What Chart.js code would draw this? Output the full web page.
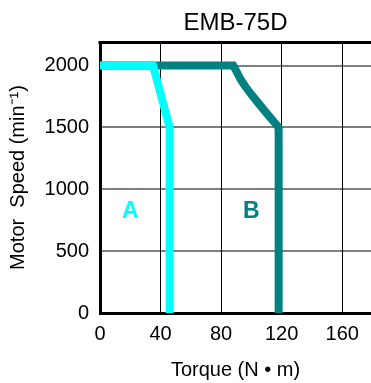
<!DOCTYPE html>
<html>
<head>
<meta charset="utf-8">
<script src="https://cdn.jsdelivr.net/npm/chart.js@4.4.1/dist/chart.umd.min.js"></script>
<style>
  html, body { margin: 0; padding: 0; background: #fff; }
  canvas { display: block; }
</style>
</head>
<body>
<canvas id="tnChart" width="371" height="383"></canvas>
<script>
/* Torque / speed curves for EMB-75D (A = cyan, B = teal) */

const torqueA = [0, 35, 46, 46];
const speedA  = [2000, 2000, 1500, 0];

const torqueB = [0, 88, 90.5, 93, 96, 100, 105, 111, 118, 118];
const speedB  = [2000, 2000, 1945, 1885, 1830, 1765, 1690, 1601, 1500, 0];

const xTicks = [0, 40, 80, 120, 160];
const yTicks = [0, 500, 1000, 1500, 2000];

const curveNames = ["A", "B"];
const curveColors = ["#00FFFF", "#008080"];
const labelTorque = [20, 100];
const labelSpeed = [820, 820];

const FONT = "'Liberation Sans', Arial, sans-serif";

function toPoints(xs, ys) {
  return xs.map((x, i) => ({ x: x, y: ys[i] }));
}

// frame line along the top of the plot + the A / B labels
const framePlugin = {
  id: "frame",
  afterDraw(chart) {
    const { ctx, chartArea, scales } = chart;
    ctx.save();
    ctx.strokeStyle = "#000";
    ctx.lineWidth = 3;
    ctx.beginPath();
    ctx.moveTo(chartArea.left - 1.5, chartArea.top + 0.5);
    ctx.lineTo(chartArea.right, chartArea.top + 0.5);
    ctx.stroke();

    ctx.font = "bold 23px " + FONT;
    ctx.textAlign = "center";
    ctx.textBaseline = "middle";
    curveNames.forEach((name, i) => {
      ctx.fillStyle = curveColors[i];
      ctx.fillText(name, scales.x.getPixelForValue(labelTorque[i]), scales.y.getPixelForValue(labelSpeed[i]));
    });
    ctx.restore();
  }
};

function renderChart() {
  const ctx = document.getElementById("tnChart");
  if (!ctx || typeof Chart === "undefined") return;

  new Chart(ctx, {
    type: "line",
    data: {
      datasets: [
        {
          label: "A",
          data: toPoints(torqueA, speedA),
          borderColor: curveColors[0],
          borderWidth: 8,
          borderJoinStyle: "miter",
          borderCapStyle: "butt",
          pointRadius: 0,
          tension: 0,
          fill: false
        },
        {
          label: "B",
          data: toPoints(torqueB, speedB),
          borderColor: curveColors[1],
          borderWidth: 8,
          borderJoinStyle: "miter",
          borderCapStyle: "butt",
          pointRadius: 0,
          tension: 0,
          fill: false
        }
      ]
    },
    options: {
      responsive: false,
      animation: false,
      layout: { padding: 0 },
      plugins: {
        legend: { display: false },
        tooltip: { enabled: false },
        title: {
          display: true,
          text: "EMB-75D",
          fullSize: false,
          color: "#000",
          font: { family: FONT, size: 24, weight: "normal", lineHeight: 1.2 },
          padding: { top: 9, bottom: 4.2 }
        }
      },
      scales: {
        x: {
          type: "linear",
          min: 0,
          max: 179,
          z: 1,
          afterBuildTicks: (s) => { s.ticks = xTicks.map((v) => ({ value: v })); },
          afterFit: (s) => { s.height = 70; },
          ticks: {
            color: "#000", padding: 9, maxRotation: 0,
            font: { family: FONT, size: 20 },
            callback: (v) => String(v)
          },
          grid: { color: "#000", lineWidth: 1, drawTicks: false },
          border: { display: true, color: "#000", width: 3 },
          title: {
            display: true,
            text: "Torque (N • m)",
            color: "#000",
            font: { family: FONT, size: 20, lineHeight: 1.2 },
            padding: { top: 0, bottom: 0.5 }
          }
        },
        y: {
          type: "linear",
          min: 0,
          max: 2190,
          z: 1,
          afterBuildTicks: (s) => { s.ticks = yTicks.map((v) => ({ value: v })); },
          afterFit: (s) => { s.width = 100; },
          ticks: {
            color: "#000", padding: 11,
            font: { family: FONT, size: 20 },
            callback: (v) => String(v)
          },
          grid: { color: "rgba(0,0,0,0.5)", lineWidth: 2, drawTicks: false },
          border: { display: true, color: "#000", width: 3 },
          title: {
            display: true,
            text: "Motor  Speed (min⁻¹)",
            color: "#000",
            font: { family: FONT, size: 20, lineHeight: 1.2 },
            padding: { top: 6.5, bottom: 0 }
          }
        }
      }
    },
    plugins: [framePlugin]
  });
}

document.addEventListener("DOMContentLoaded", renderChart);
</script>
</body>
</html>
